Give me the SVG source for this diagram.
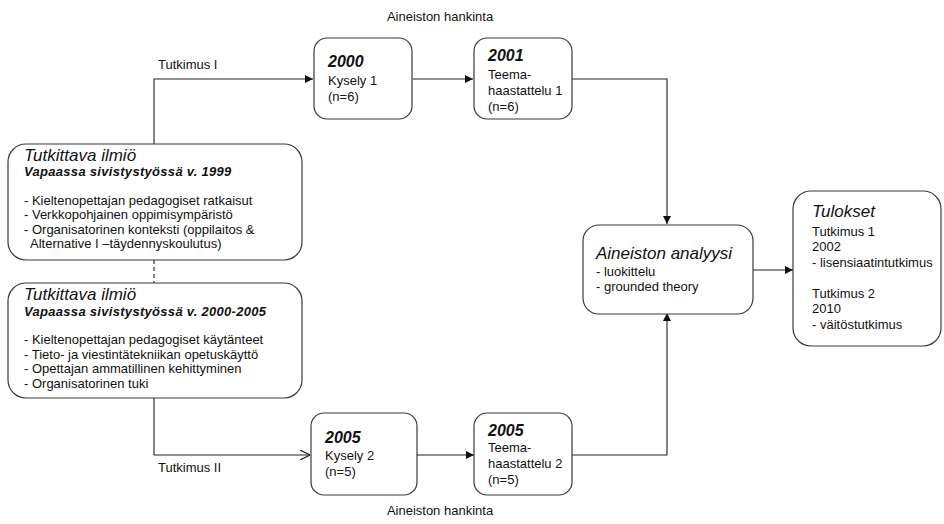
<svg xmlns="http://www.w3.org/2000/svg" width="944" height="524" viewBox="0 0 944 524">
  <style>
    text { font-family: "Liberation Sans", Arial, sans-serif; fill: #111; }
    .t { font-size: 13px; }
    .h { font-size: 17px; font-style: italic; }
    .sub { font-size: 13px; font-style: italic; font-weight: bold; letter-spacing: 0.3px; }
    .yr { font-size: 16px; font-style: italic; font-weight: bold; }
    .box { fill: #fff; stroke: #3a3a3a; stroke-width: 1.2; }
    .ln { fill: none; stroke: #222; stroke-width: 1.1; }
    .dash { fill: none; stroke: #222; stroke-width: 1.1; stroke-dasharray: 4 3; }
  </style>
  <defs>
    <marker id="arrow" viewBox="0 0 10 10" refX="10" refY="5" markerWidth="8" markerHeight="8" markerUnits="userSpaceOnUse" orient="auto">
      <path d="M0,0 L10,5 L0,10 Z" fill="#111"/>
    </marker>
    <marker id="open" viewBox="0 0 10 10" refX="10" refY="5" markerWidth="10" markerHeight="10" markerUnits="userSpaceOnUse" orient="auto">
      <path d="M0,0 L10,5 L0,10" fill="none" stroke="#222" stroke-width="1.2"/>
    </marker>
  </defs>

  <rect width="944" height="524" fill="#fff"/>

  <!-- connectors -->
  <g id="connectors">
    <path class="ln" d="M154,144 V79 H313" marker-end="url(#arrow)"/>
    <path class="dash" d="M154,260 V283"/>
    <path class="ln" d="M154,398 V455 H310" marker-end="url(#open)"/>
    <path class="ln" d="M413,79 H473" marker-end="url(#arrow)"/>
    <path class="ln" d="M417,455 H474" marker-end="url(#arrow)"/>
    <path class="ln" d="M572,79 H667 V224" marker-end="url(#arrow)"/>
    <path class="ln" d="M572,455 H667 V313" marker-end="url(#arrow)"/>
    <path class="ln" d="M753,270 H793" marker-end="url(#arrow)"/>
  </g>

  <!-- free labels -->
  <g id="labels">
    <text class="t" x="440" y="21" text-anchor="middle">Aineiston hankinta</text>
    <text class="t" x="440" y="515" text-anchor="middle">Aineiston hankinta</text>
    <text class="t" x="158" y="69">Tutkimus I</text>
    <text class="t" x="158" y="472">Tutkimus II</text>
  </g>

  <!-- phenomenon 1999 -->
  <g id="ilmio-1999">
    <rect class="box" x="8" y="144" width="294" height="116" rx="18"/>
    <text class="h" x="24" y="161">Tutkittava ilmiö</text>
    <text class="sub" x="24" y="176">Vapaassa sivistystyössä  v. 1999</text>
    <text class="t" x="24" y="205">- Kieltenopettajan pedagogiset ratkaisut</text>
    <text class="t" x="24" y="219">- Verkkopohjainen oppimisympäristö</text>
    <text class="t" x="24" y="234">- Organisatorinen konteksti (oppilaitos &amp;</text>
    <text class="t" x="30" y="248">Alternative I –täydennyskoulutus)</text>
  </g>

  <!-- phenomenon 2000-2005 -->
  <g id="ilmio-2000-2005">
    <rect class="box" x="8" y="283" width="294" height="115" rx="18"/>
    <text class="h" x="24" y="300">Tutkittava ilmiö</text>
    <text class="sub" x="24" y="316">Vapaassa sivistystyössä  v. 2000-2005</text>
    <text class="t" x="24" y="344">- Kieltenopettajan pedagogiset käytänteet</text>
    <text class="t" x="24" y="359">- Tieto- ja viestintätekniikan opetuskäyttö</text>
    <text class="t" x="24" y="373">- Opettajan ammatillinen kehittyminen</text>
    <text class="t" x="24" y="388">- Organisatorinen tuki</text>
  </g>

  <!-- survey 1 -->
  <g id="kysely-1">
    <rect class="box" x="314" y="38" width="98" height="81" rx="13"/>
    <text class="yr" x="328" y="67">2000</text>
    <text class="t" x="328" y="85">Kysely 1</text>
    <text class="t" x="328" y="101">(n=6)</text>
  </g>

  <!-- interview 1 -->
  <g id="teemahaastattelu-1">
    <rect class="box" x="474" y="38" width="98" height="81" rx="13"/>
    <text class="yr" x="488" y="61">2001</text>
    <text class="t" x="488" y="79">Teema-</text>
    <text class="t" x="488" y="95">haastattelu 1</text>
    <text class="t" x="488" y="111">(n=6)</text>
  </g>

  <!-- survey 2 -->
  <g id="kysely-2">
    <rect class="box" x="311" y="413" width="106" height="82" rx="13"/>
    <text class="yr" x="325" y="443">2005</text>
    <text class="t" x="325" y="460">Kysely 2</text>
    <text class="t" x="325" y="476">(n=5)</text>
  </g>

  <!-- interview 2 -->
  <g id="teemahaastattelu-2">
    <rect class="box" x="474" y="413" width="98" height="82" rx="13"/>
    <text class="yr" x="488" y="436">2005</text>
    <text class="t" x="488" y="452">Teema-</text>
    <text class="t" x="488" y="468">haastattelu 2</text>
    <text class="t" x="488" y="484">(n=5)</text>
  </g>

  <!-- analysis -->
  <g id="analyysi">
    <rect class="box" x="583" y="225" width="170" height="89" rx="16"/>
    <text class="h" x="596" y="259">Aineiston analyysi</text>
    <text class="t" x="596" y="276">- luokittelu</text>
    <text class="t" x="596" y="291">- grounded theory</text>
  </g>

  <!-- results -->
  <g id="tulokset">
    <rect class="box" x="793" y="191" width="148" height="155" rx="18"/>
    <text class="h" x="812" y="217">Tulokset</text>
    <text class="t" x="812" y="236">Tutkimus 1</text>
    <text class="t" x="812" y="251">2002</text>
    <text class="t" x="812" y="267">- lisensiaatintutkimus</text>
    <text class="t" x="812" y="298">Tutkimus 2</text>
    <text class="t" x="812" y="313">2010</text>
    <text class="t" x="812" y="329">- väitöstutkimus</text>
  </g>
</svg>
